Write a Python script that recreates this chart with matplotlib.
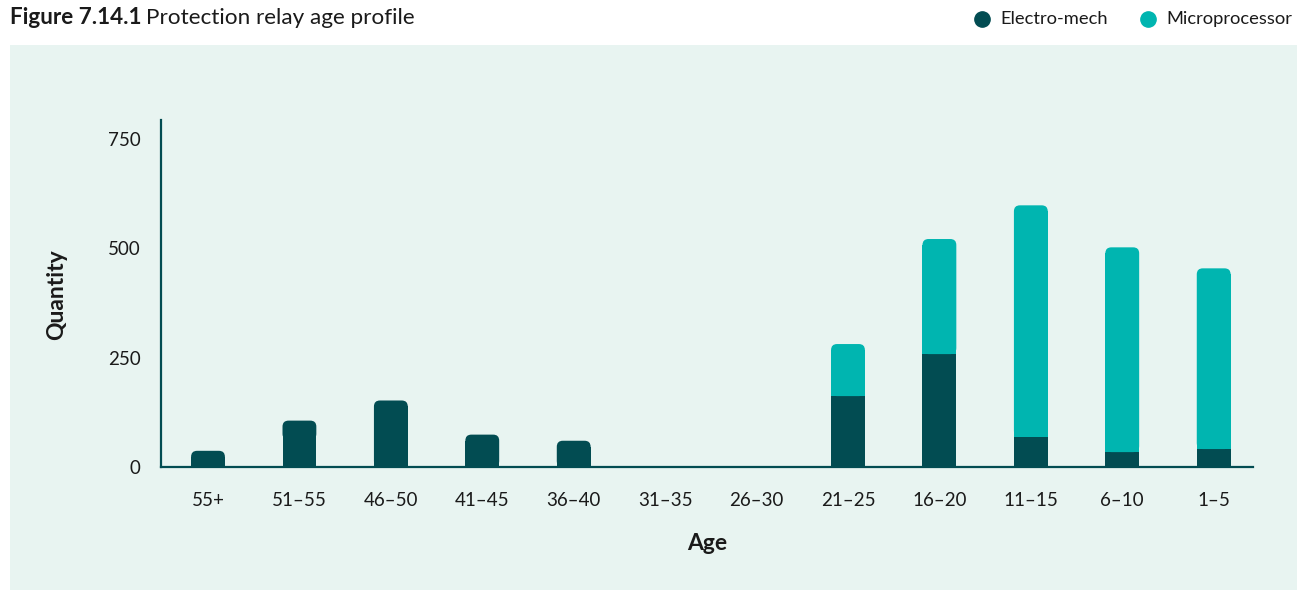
import matplotlib
matplotlib.use("Agg")
import matplotlib.pyplot as plt
from matplotlib.patches import Rectangle, FancyBboxPatch
from matplotlib.lines import Line2D

# Data
age_groups = ["55+", "51–55", "46–50", "41–45", "36–40", "31–35", "26–30",
              "21–25", "16–20", "11–15", "6–10", "1–5"]
electro_mech = [37, 62, 152, 74, 60, 0, 0, 162, 258, 69, 34, 41]
microprocessor = [0, 44, 0, 0, 0, 0, 0, 119, 263, 529, 468, 413]
y_ticks = [0, 250, 500, 750]

DARK = "#024C52"
TEAL = "#00B5B0"
PANEL = "#E8F4F1"
TEXT = "#1a1a1a"
FONT = "Lato"

plt.rcParams["font.family"] = [FONT, "DejaVu Sans"]

W, H, DPI = 1308, 590, 100
fig = plt.figure(figsize=(W / DPI, H / DPI), dpi=DPI, facecolor="white")

# light panel behind the chart
fig.add_artist(Rectangle((10 / W, 0), (1297 - 10) / W, (H - 45) / H,
                         transform=fig.transFigure, facecolor=PANEL,
                         edgecolor="none", zorder=0))

ax_l, ax_r, ax_t, ax_b = 161, 1253, 120, 467
ax = fig.add_axes([ax_l / W, (H - ax_b) / H, (ax_r - ax_l) / W, (ax_b - ax_t) / H])
ax.set_facecolor("none")

x = list(range(len(age_groups)))
xlim = (-0.514, 11.43)
ylim = (0, 793)
ax.set_xlim(*xlim)
ax.set_ylim(*ylim)

bar_w = 0.37
radius_px = 6.0
px_per_x = (ax_r - ax_l) / (xlim[1] - xlim[0])
px_per_y = (ax_b - ax_t) / (ylim[1] - ylim[0])
r_x = radius_px / px_per_x
aspect = px_per_x / px_per_y  # y-units per x-unit for equal pixel radius


def rounded_top_bar(xc, bottom, height, color):
    """Bar whose top corners are rounded; bottom corners stay square."""
    if height <= 0:
        return
    left = xc - bar_w / 2
    r_y = r_x * aspect
    ax.add_patch(FancyBboxPatch((left, bottom), bar_w, height,
                                boxstyle=f"round,pad=0,rounding_size={r_x}",
                                mutation_aspect=aspect,
                                facecolor=color, edgecolor="none",
                                linewidth=0, zorder=3))
    low_h = max(height - r_y, 0)
    if low_h > 0:
        ax.add_patch(Rectangle((left, bottom), bar_w, low_h,
                               facecolor=color, edgecolor="none",
                               linewidth=0, zorder=3))


for i, (em, mp) in enumerate(zip(electro_mech, microprocessor)):
    # 51–55 group is shown in a single dark tone
    mp_color = DARK if age_groups[i] == "51–55" else TEAL
    if mp > 0:
        ax.bar(i, em, width=bar_w, color=DARK, linewidth=0, zorder=3)
        rounded_top_bar(i, em, mp, mp_color)
    else:
        rounded_top_bar(i, 0, em, DARK)

for side in ("top", "right"):
    ax.spines[side].set_visible(False)
for side in ("left", "bottom"):
    ax.spines[side].set_color(DARK)
    ax.spines[side].set_linewidth(1.6)
    ax.spines[side].set_zorder(4)

ax.set_xticks(x)
ax.set_xticklabels(age_groups)
ax.set_yticks(y_ticks)
ax.set_yticklabels([str(v) for v in y_ticks])
ax.tick_params(axis="both", length=0, labelsize=13.5, colors=TEXT)
ax.tick_params(axis="x", pad=18)
ax.tick_params(axis="y", pad=14.5)

ax.set_xlabel("Age", fontsize=16.5, fontweight="bold", color=TEXT)
ax.set_ylabel("Quantity", fontsize=16.5, fontweight="bold", color=TEXT)
ax.xaxis.set_label_coords(0.5, -(544 - ax_b) / (ax_b - ax_t))
ax.yaxis.set_label_coords((57 - ax_l) / (ax_r - ax_l), (ax_b - 295) / (ax_b - ax_t))
ax.xaxis.label.set_va("center")
ax.yaxis.label.set_va("center")

# title: bold figure number followed by regular caption
renderer = fig.canvas.get_renderer()
t1 = fig.text(10 / W, 1 - 18 / H, "Figure 7.14.1", fontsize=16.2, fontweight="bold",
              color=TEXT, va="center", ha="left")
bb = t1.get_window_extent(renderer)
fig.text((bb.x1 + 4) / W, 1 - 18 / H, "Protection relay age profile", fontsize=16.2,
         color=TEXT, va="center", ha="left")

# legend
for cx, tx, label, col in [(982, 1000, "Electro-mech", DARK),
                           (1148, 1166, "Microprocessor", TEAL)]:
    fig.add_artist(Line2D([cx / W], [1 - 19 / H], marker="o", markersize=11,
                          color=col, linestyle="none", transform=fig.transFigure))
    fig.text(tx / W, 1 - 19 / H, label, fontsize=13.2, color=TEXT,
             va="center", ha="left")

fig.savefig("out.png", dpi=DPI, facecolor="white")
